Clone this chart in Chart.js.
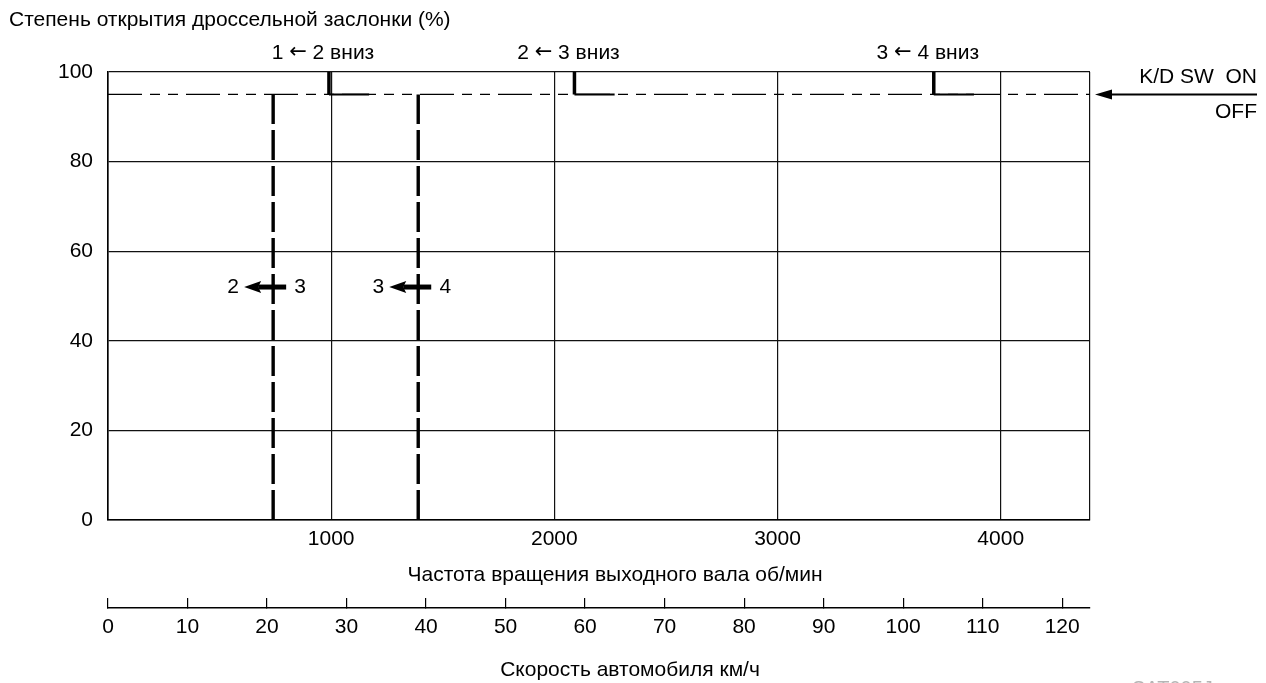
<!DOCTYPE html>
<html lang="ru">
<head>
<meta charset="utf-8">
<title>Степень открытия дроссельной заслонки</title>
<script src="https://cdn.jsdelivr.net/npm/chart.js@4/dist/chart.umd.min.js"></script>
<style>
  html, body { margin: 0; padding: 0; background: #fff; }
  #wrap { width: 1266px; height: 683px; position: relative; }
</style>
</head>
<body>
<div id="wrap"><canvas id="chart"></canvas></div>
<script>
// Axis ticks
const rpmTicks = [0, 1000, 2000, 3000, 4000, 4400];
const rpmTickLabels = ['', '1000', '2000', '3000', '4000', ''];
const throttleTicks = [0, 20, 40, 60, 80, 100];
const speedTicks = [0, 10, 20, 30, 40, 50, 60, 70, 80, 90, 100, 110, 120];

// Kick-down switch threshold (% throttle)
const kickdownLevel = 95;

// Up-shift lines (output shaft rpm) and the gears they separate
const upshiftRpm = [740, 1390];
const upshiftGears = [['2', '3'], ['3', '4']];
const upshiftArrowLevel = 52;

// Kick-down down-shift points (rpm) and where their solid run ends
const downshiftRpm = [990, 2090, 3700];
const downshiftRunEnd = [1170, 2270, 3880];
const downshiftLabels = ['1 ← 2 вниз', '2 ← 3 вниз', '3 ← 4 вниз'];

const FONT = '"Liberation Sans", Arial, Helvetica, sans-serif';
const ARROW_FONT = '"DejaVu Sans", sans-serif';

const datasets = [];
datasets.push({
  data: [{x: rpmTicks[0], y: kickdownLevel}, {x: rpmTicks[rpmTicks.length - 1], y: kickdownLevel}],
  borderColor: '#000', borderWidth: 1.4, borderDash: [34, 8, 10, 8, 10, 8]
});
upshiftRpm.forEach(r => datasets.push({
  data: [{x: r, y: 0}, {x: r, y: kickdownLevel}],
  borderColor: '#000', borderWidth: 3.4, borderDash: [30, 6], borderCapStyle: 'butt'
}));
downshiftRpm.forEach((r, i) => {
  datasets.push({
    data: [{x: r, y: 100}, {x: r, y: kickdownLevel}],
    borderColor: '#000', borderWidth: 3.5
  });
  datasets.push({
    data: [{x: r, y: kickdownLevel}, {x: downshiftRunEnd[i], y: kickdownLevel}],
    borderColor: '#000', borderWidth: 2
  });
});
datasets.forEach(d => Object.assign(d, {showLine: true, pointRadius: 0, fill: false, tension: 0}));

// Draws "a ← b вниз" with a wider arrow glyph, centred on cx
function drawShiftLabel(ctx, text, cx, cy) {
  const [left, right] = text.split('←');
  const parts = [
    {t: left, f: '21px ' + FONT},
    {t: '←', f: '21px ' + ARROW_FONT},
    {t: right, f: '21px ' + FONT}
  ];
  let total = 0;
  parts.forEach(p => { ctx.font = p.f; p.w = ctx.measureText(p.t).width; total += p.w; });
  let xPos = cx - total / 2;
  ctx.textAlign = 'left';
  parts.forEach(p => { ctx.font = p.f; ctx.fillText(p.t, xPos, cy); xPos += p.w; });
}

const annotate = {
  id: 'annotate',
  afterDraw(chart) {
    const {ctx, chartArea: ca, scales: {x, y}} = chart;
    ctx.save();
    ctx.fillStyle = '#000';
    ctx.strokeStyle = '#000';
    ctx.textBaseline = 'middle';

    // vertical axis caption
    ctx.font = '21px ' + FONT;
    ctx.textAlign = 'left';
    ctx.fillText('Степень открытия дроссельной заслонки (%)', 9, 20);

    // down-shift captions above the frame
    downshiftRpm.forEach((r, i) => {
      drawShiftLabel(ctx, downshiftLabels[i], x.getPixelForValue(r) - 6, 53);
    });

    // up-shift arrows
    ctx.font = '21px ' + FONT;
    ctx.textAlign = 'center';
    const ay = y.getPixelForValue(upshiftArrowLevel);
    upshiftRpm.forEach((r, i) => {
      const px = x.getPixelForValue(r);
      ctx.lineWidth = 5;
      ctx.beginPath();
      ctx.moveTo(px - 15, ay);
      ctx.lineTo(px + 13, ay);
      ctx.stroke();
      ctx.beginPath();
      ctx.moveTo(px - 29, ay);
      ctx.lineTo(px - 12, ay - 6);
      ctx.lineTo(px - 15, ay);
      ctx.lineTo(px - 12, ay + 6);
      ctx.closePath();
      ctx.fill();
      ctx.fillText(upshiftGears[i][0], px - 40, ay);
      ctx.fillText(upshiftGears[i][1], px + 27, ay);
    });

    // kick-down switch pointer
    const ky = y.getPixelForValue(kickdownLevel);
    const tip = ca.right + 5;
    ctx.lineWidth = 2;
    ctx.beginPath();
    ctx.moveTo(tip + 10, ky);
    ctx.lineTo(1257, ky);
    ctx.stroke();
    ctx.beginPath();
    ctx.moveTo(tip, ky);
    ctx.lineTo(tip + 17, ky - 5);
    ctx.lineTo(tip + 17, ky + 5);
    ctx.closePath();
    ctx.fill();
    ctx.textAlign = 'right';
    ctx.fillText('K/D SW  ON', 1257, 77);
    ctx.fillText('OFF', 1257, 112);

    // horizontal axis captions
    ctx.textAlign = 'center';
    ctx.fillText('Частота вращения выходного вала об/мин', 615, 575);
    ctx.fillText('Скорость автомобиля км/ч', 630, 670);

    // figure code
    ctx.fillStyle = '#b5b5b5';
    ctx.textAlign = 'left';
    ctx.textBaseline = 'alphabetic';
    ctx.font = '20px ' + FONT;
    ctx.fillText('SAT005J', 1132, 695);
    ctx.restore();
  }
};

new Chart(document.getElementById('chart'), {
  type: 'scatter',
  data: {datasets},
  options: {
    responsive: true,
    maintainAspectRatio: false,
    animation: false,
    devicePixelRatio: 1,
    layout: {padding: {left: 0, right: 176, top: 72, bottom: 0}},
    plugins: {legend: {display: false}, tooltip: {enabled: false}},
    scales: {
      x: {
        type: 'linear', position: 'bottom', min: 0, max: 4400,
        afterBuildTicks: s => { s.ticks = rpmTicks.map(v => ({value: v})); },
        afterFit: s => { s.height = 88; },
        grid: {color: '#111', lineWidth: 1.2, drawTicks: false},
        border: {color: '#000', width: 1.6},
        ticks: {
          color: '#000', font: {family: FONT, size: 21}, padding: 7,
          maxRotation: 0, minRotation: 0, autoSkip: false,
          callback: v => rpmTickLabels[rpmTicks.indexOf(v)]
        }
      },
      speed: {
        type: 'linear', position: 'bottom', weight: 1, min: 0, max: 123.5,
        afterBuildTicks: s => { s.ticks = speedTicks.map(v => ({value: v})); },
        afterFit: s => { s.height = 75; },
        grid: {drawOnChartArea: false, drawTicks: true, tickLength: -10, color: '#000', lineWidth: 1.2},
        border: {color: '#000', width: 1.6},
        ticks: {
          color: '#000', font: {family: FONT, size: 21}, padding: 17,
          maxRotation: 0, minRotation: 0, autoSkip: false
        }
      },
      y: {
        type: 'linear', position: 'left', min: 0, max: 100,
        afterBuildTicks: s => { s.ticks = throttleTicks.map(v => ({value: v})); },
        afterFit: s => { s.width = 108; },
        grid: {color: '#111', lineWidth: 1.2, drawTicks: false},
        border: {color: '#000', width: 1.6},
        ticks: {color: '#000', font: {family: FONT, size: 21}, padding: 15}
      }
    }
  },
  plugins: [annotate]
});
</script>
</body>
</html>
